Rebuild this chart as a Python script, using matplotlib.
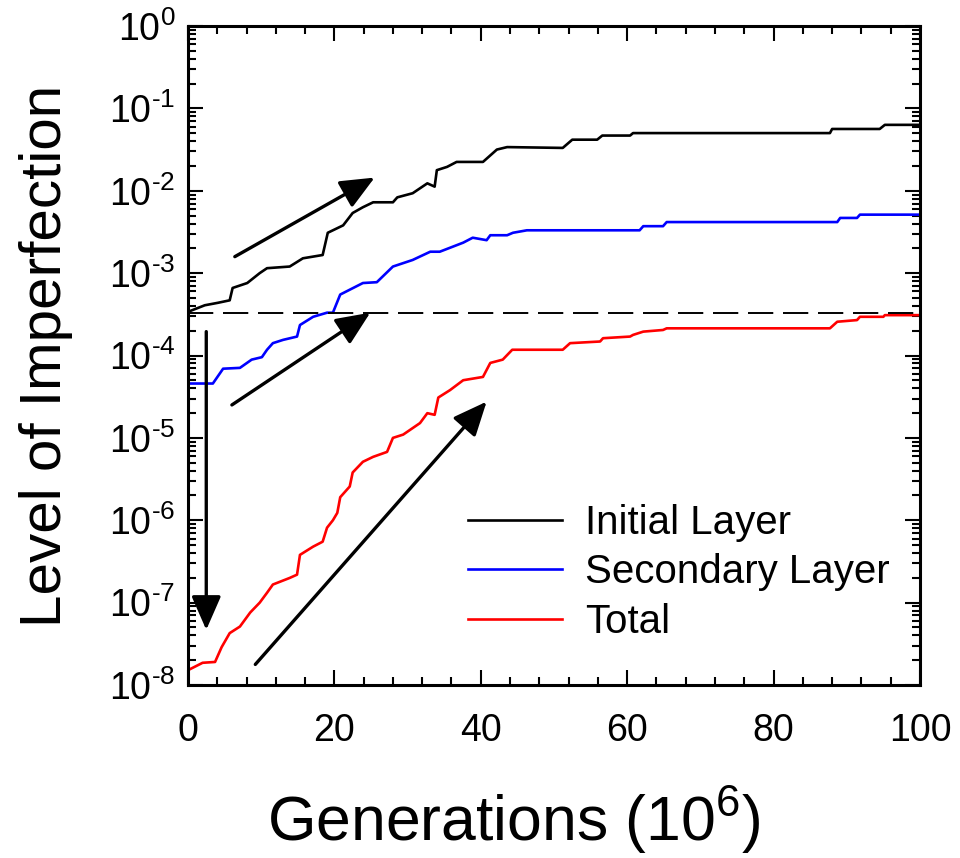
import numpy as np
import matplotlib
matplotlib.use("Agg")
import matplotlib.pyplot as plt
from matplotlib.ticker import LogLocator, MultipleLocator, NullFormatter, FuncFormatter

plt.rcParams['font.family'] = ['Liberation Sans', 'DejaVu Sans']
plt.rcParams['mathtext.fontset'] = 'custom'
plt.rcParams['mathtext.rm'] = 'Liberation Sans'
plt.rcParams['mathtext.it'] = 'Liberation Sans:italic'
plt.rcParams['axes.unicode_minus'] = False

# generations (10^6) and log10 of the imperfection level
initial_x = [0, 2.3, 4.1, 5.7, 6.1, 8.1, 9.8, 10.8, 13.9, 15.7, 18.4, 19.1, 21.2, 22.5,
             23.9, 25.3, 28.0, 28.6, 30.7, 32.7, 33.7, 34.0, 35.4, 36.7, 40.3, 42.2,
             43.6, 51.2, 52.5, 55.9, 56.6, 60.4, 60.8, 87.7, 88.0, 94.5, 95.2, 100]
initial_log = [-3.47, -3.39, -3.36, -3.33, -3.18, -3.12, -3.00, -2.94, -2.92, -2.82, -2.78,
               -2.51, -2.42, -2.27, -2.20, -2.14, -2.14, -2.08, -2.03, -1.91, -1.95, -1.75,
               -1.71, -1.65, -1.65, -1.50, -1.47, -1.48, -1.38, -1.38, -1.33, -1.33, -1.30,
               -1.30, -1.25, -1.25, -1.20, -1.20]

secondary_x = [0, 3.4, 4.8, 7.1, 8.7, 10.1, 10.8, 11.6, 13.0, 14.9, 15.3, 17.1, 19.0, 19.8,
               20.8, 23.9, 25.8, 28.0, 30.7, 33.1, 34.4, 37.6, 38.9, 40.8, 41.3, 43.6, 44.4,
               46.3, 61.7, 62.2, 64.9, 65.4, 88.7, 89.1, 91.4, 91.8, 100]
secondary_log = [-4.34, -4.34, -4.16, -4.15, -4.05, -4.02, -3.93, -3.85, -3.81, -3.77, -3.63,
                 -3.53, -3.48, -3.48, -3.26, -3.12, -3.11, -2.92, -2.84, -2.74, -2.74, -2.63,
                 -2.57, -2.60, -2.54, -2.54, -2.51, -2.48, -2.48, -2.43, -2.43, -2.38, -2.38,
                 -2.33, -2.33, -2.29, -2.29]

total_x = [0, 2.0, 3.7, 4.6, 5.7, 7.1, 8.5, 9.8, 10.8, 11.6, 13.9, 14.9, 15.3, 17.1, 18.4,
           19.0, 19.8, 20.4, 20.8, 22.1, 22.5, 23.9, 25.3, 27.2, 28.0, 29.4, 31.7, 32.7,
           33.7, 34.2, 35.8, 37.6, 40.3, 41.3, 43.0, 44.3, 51.2, 52.2, 56.3, 56.7, 60.4,
           60.8, 62.2, 64.9, 65.4, 87.7, 88.7, 91.4, 91.8, 95.0, 95.2, 100]
total_log = [-7.82, -7.73, -7.72, -7.54, -7.37, -7.29, -7.12, -7.00, -6.88, -6.78, -6.70,
             -6.66, -6.42, -6.32, -6.26, -6.09, -6.00, -5.91, -5.72, -5.59, -5.42, -5.29,
             -5.23, -5.17, -5.00, -4.96, -4.82, -4.70, -4.72, -4.51, -4.42, -4.30, -4.26,
             -4.09, -4.05, -3.93, -3.93, -3.85, -3.83, -3.79, -3.77, -3.75, -3.71, -3.69,
             -3.67, -3.67, -3.59, -3.57, -3.53, -3.53, -3.51, -3.51]

threshold = 3.3e-4

# arrows: (x start, y start, x end, y end)
arrows = [
    (6.4, 10**-2.80, 25.5, 10**-1.84),
    (6.0, 10**-4.60, 24.9, 10**-3.48),
    (9.2, 10**-7.75, 40.8, 10**-4.56),
    (2.5, 10**-3.71, 2.5, 10**-7.33),
]


def decade_label(v, pos):
    # hyphen instead of the math minus, like the original
    n = int(round(np.log10(v)))
    if n < 0:
        return '10$^{\\text{-}%d}$' % (-n)
    return '10$^{%d}$' % n


fig = plt.figure(figsize=(9.6, 8.58), dpi=100)
ax = fig.add_axes([0.1958, 0.2016, 0.7625, 0.7681])

ax.plot(initial_x, 10 ** np.array(initial_log), color='black', lw=1.9, label='Initial Layer')
ax.plot(secondary_x, 10 ** np.array(secondary_log), color='#0000ff', lw=1.9, label='Secondary Layer')
ax.plot(total_x, 10 ** np.array(total_log), color='#ff0000', lw=1.9, label='Total')
ax.axhline(threshold, color='black', lw=1.4, linestyle=(0, (13, 5)))

for x0, y0, x1, y1 in arrows:
    ax.annotate('', xy=(x1, y1), xytext=(x0, y0),
                arrowprops=dict(arrowstyle='-|>,head_length=0.8,head_width=0.35',
                                lw=2.4, color='black', mutation_scale=26,
                                shrinkA=0, shrinkB=0))

ax.set_yscale('log')
ax.set_xlim(0, 100)
ax.set_ylim(1e-8, 1)
ax.xaxis.set_major_locator(MultipleLocator(20))
ax.xaxis.set_minor_locator(MultipleLocator(4))
ax.yaxis.set_major_locator(LogLocator(base=10, numticks=20))
ax.yaxis.set_major_formatter(FuncFormatter(decade_label))
ax.yaxis.set_minor_locator(LogLocator(base=10, subs=np.arange(2, 10), numticks=20))
ax.yaxis.set_minor_formatter(NullFormatter())

ax.tick_params(which='both', direction='in', top=True, right=True, width=1.5)
ax.tick_params(which='major', length=10.5, labelsize=27)
ax.tick_params(which='minor', length=6)
ax.tick_params(axis='x', which='major', pad=20)
ax.tick_params(axis='y', which='major', pad=9)
for s in ax.spines.values():
    s.set_linewidth(2.2)

ax.set_xlabel('Generations (10$^{6}$)', fontsize=45)
ax.xaxis.set_label_coords(0.445, -0.152)
ax.set_ylabel('Level of Imperfection', fontsize=42, labelpad=26)

ax.legend(loc='center left', bbox_to_anchor=(0.382, 0.171), frameon=False,
          fontsize=29, handlelength=2.35, handletextpad=0.57, labelspacing=0.28,
          borderpad=0, borderaxespad=0)

fig.savefig('out.png', dpi=100)
